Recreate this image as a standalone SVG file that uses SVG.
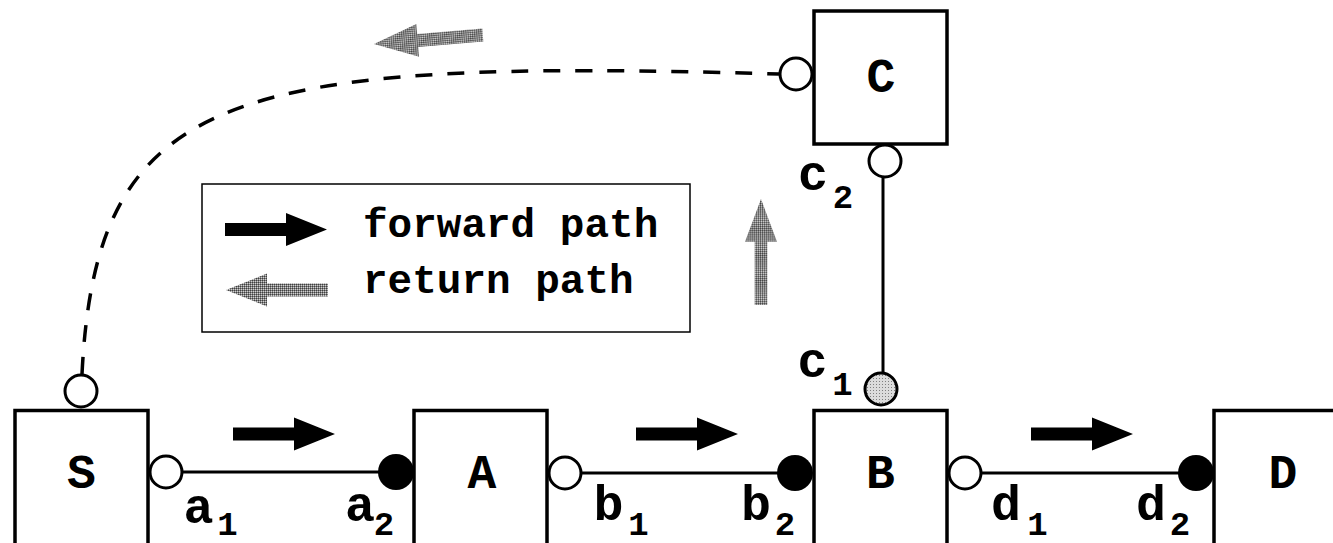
<svg xmlns="http://www.w3.org/2000/svg" width="1333" height="543" viewBox="0 0 1333 543">
<defs>
<pattern id="gray" width="2" height="2" patternUnits="userSpaceOnUse">
<rect width="2" height="2" fill="#808080"/>
<rect width="1" height="1" fill="#404040"/>
<rect x="1" y="1" width="1" height="1" fill="#d0d0d0"/>
</pattern>
<pattern id="light" width="3" height="3" patternUnits="userSpaceOnUse">
<rect width="3" height="3" fill="#dcdcdc"/>
<rect width="1" height="1" fill="#808080"/>
</pattern>
<path id="fwd" d="M0,-6.5 H61 V-16.5 L102,0 L61,16.5 V6.5 H0 Z"/>
<path id="ret" d="M0,0 L41,-16.5 V-6.5 H102 V6.5 H41 V16.5 Z"/>
</defs>
<style>
.box{fill:#fff;stroke:#000;stroke-width:3.5}
.port{fill:#fff;stroke:#000;stroke-width:3}
.pfill{fill:#000}
.wire{stroke:#000;stroke-width:3;fill:none}
.dash{stroke:#000;stroke-width:3.5;fill:none;stroke-dasharray:17 15}
.big{font-family:"Liberation Mono","Courier New",monospace;font-weight:bold;font-size:48px;text-anchor:middle}
.lab{font-family:"Liberation Mono","Courier New",monospace;font-weight:bold;font-size:50px;text-anchor:middle}
.sub{font-family:"Liberation Mono","Courier New",monospace;font-weight:bold;font-size:34px;text-anchor:middle}
.leg{font-family:"Liberation Mono","Courier New",monospace;font-weight:bold;font-size:41px}
</style>

<g id="connectors">
<path class="dash" d="M82,374 C96,90 230,58 779,74"/>
<line class="wire" x1="182" y1="472" x2="380" y2="472"/>
<line class="wire" x1="581" y1="473" x2="779" y2="473"/>
<line class="wire" x1="981" y1="473" x2="1180" y2="473"/>
<line class="wire" x1="883" y1="178" x2="883" y2="372"/>
</g>

<g id="arrows">
<use href="#fwd" x="233" y="434"/>
<use href="#fwd" x="636" y="434"/>
<use href="#fwd" x="1031" y="434"/>
<use href="#ret" fill="url(#gray)" transform="translate(374,44) rotate(-4.7) scale(1.07,1)"/>
<use href="#ret" fill="url(#gray)" transform="translate(761,199) rotate(90) scale(1.04,0.97)"/>
</g>

<g id="legend">
<rect x="202" y="184" width="488" height="148" fill="#fff" stroke="#000" stroke-width="1.5"/>
<use href="#fwd" x="225" y="229.5"/>
<use href="#ret" x="226" y="290" fill="url(#gray)"/>
<text class="leg" x="363" y="237">forward path</text>
<text class="leg" x="363" y="293">return path</text>
</g>

<g id="node-S">
<rect class="box" x="15" y="410.5" width="133" height="140"/>
<text class="big" x="81.5" y="488">S</text>
<circle class="port" cx="81" cy="391" r="16"/>
<circle class="port" cx="166" cy="472" r="16"/>
</g>

<g id="node-A">
<rect class="box" x="414" y="410.5" width="133" height="140"/>
<text class="big" x="482" y="488">A</text>
<circle class="pfill" cx="396" cy="472" r="18"/>
<circle class="port" cx="565" cy="473" r="16"/>
</g>

<g id="node-B">
<rect class="box" x="814" y="410.5" width="133" height="140"/>
<text class="big" x="880.5" y="488">B</text>
<circle class="pfill" cx="795" cy="473" r="18"/>
<circle class="port" cx="965" cy="473" r="16"/>
<circle cx="881" cy="389" r="16" fill="url(#light)" stroke="#000" stroke-width="3"/>
</g>

<g id="node-C">
<rect class="box" x="814" y="11" width="133" height="133"/>
<text class="big" x="881" y="92">C</text>
<circle class="port" cx="796" cy="74" r="16"/>
<circle class="port" cx="885" cy="161" r="16"/>
</g>

<g id="node-D">
<rect class="box" x="1214" y="410.5" width="133" height="140"/>
<text class="big" x="1283" y="488">D</text>
<circle class="pfill" cx="1196" cy="473" r="18"/>
</g>

<g id="labels">
<text class="lab" x="198.5" y="523">a</text><text class="sub" x="227.5" y="535">1</text>
<text class="lab" x="360" y="521">a</text><text class="sub" x="384" y="535">2</text>
<text class="lab" x="608.5" y="520">b</text><text class="sub" x="638.5" y="535">1</text>
<text class="lab" x="756" y="520">b</text><text class="sub" x="785" y="535">2</text>
<text class="lab" x="1006" y="520">d</text><text class="sub" x="1037.5" y="535">1</text>
<text class="lab" x="1151" y="520">d</text><text class="sub" x="1180" y="535">2</text>
<text class="lab" x="812.5" y="377">c</text><text class="sub" x="842.5" y="395">1</text>
<text class="lab" x="813" y="190">c</text><text class="sub" x="843" y="208">2</text>
</g>
</svg>
